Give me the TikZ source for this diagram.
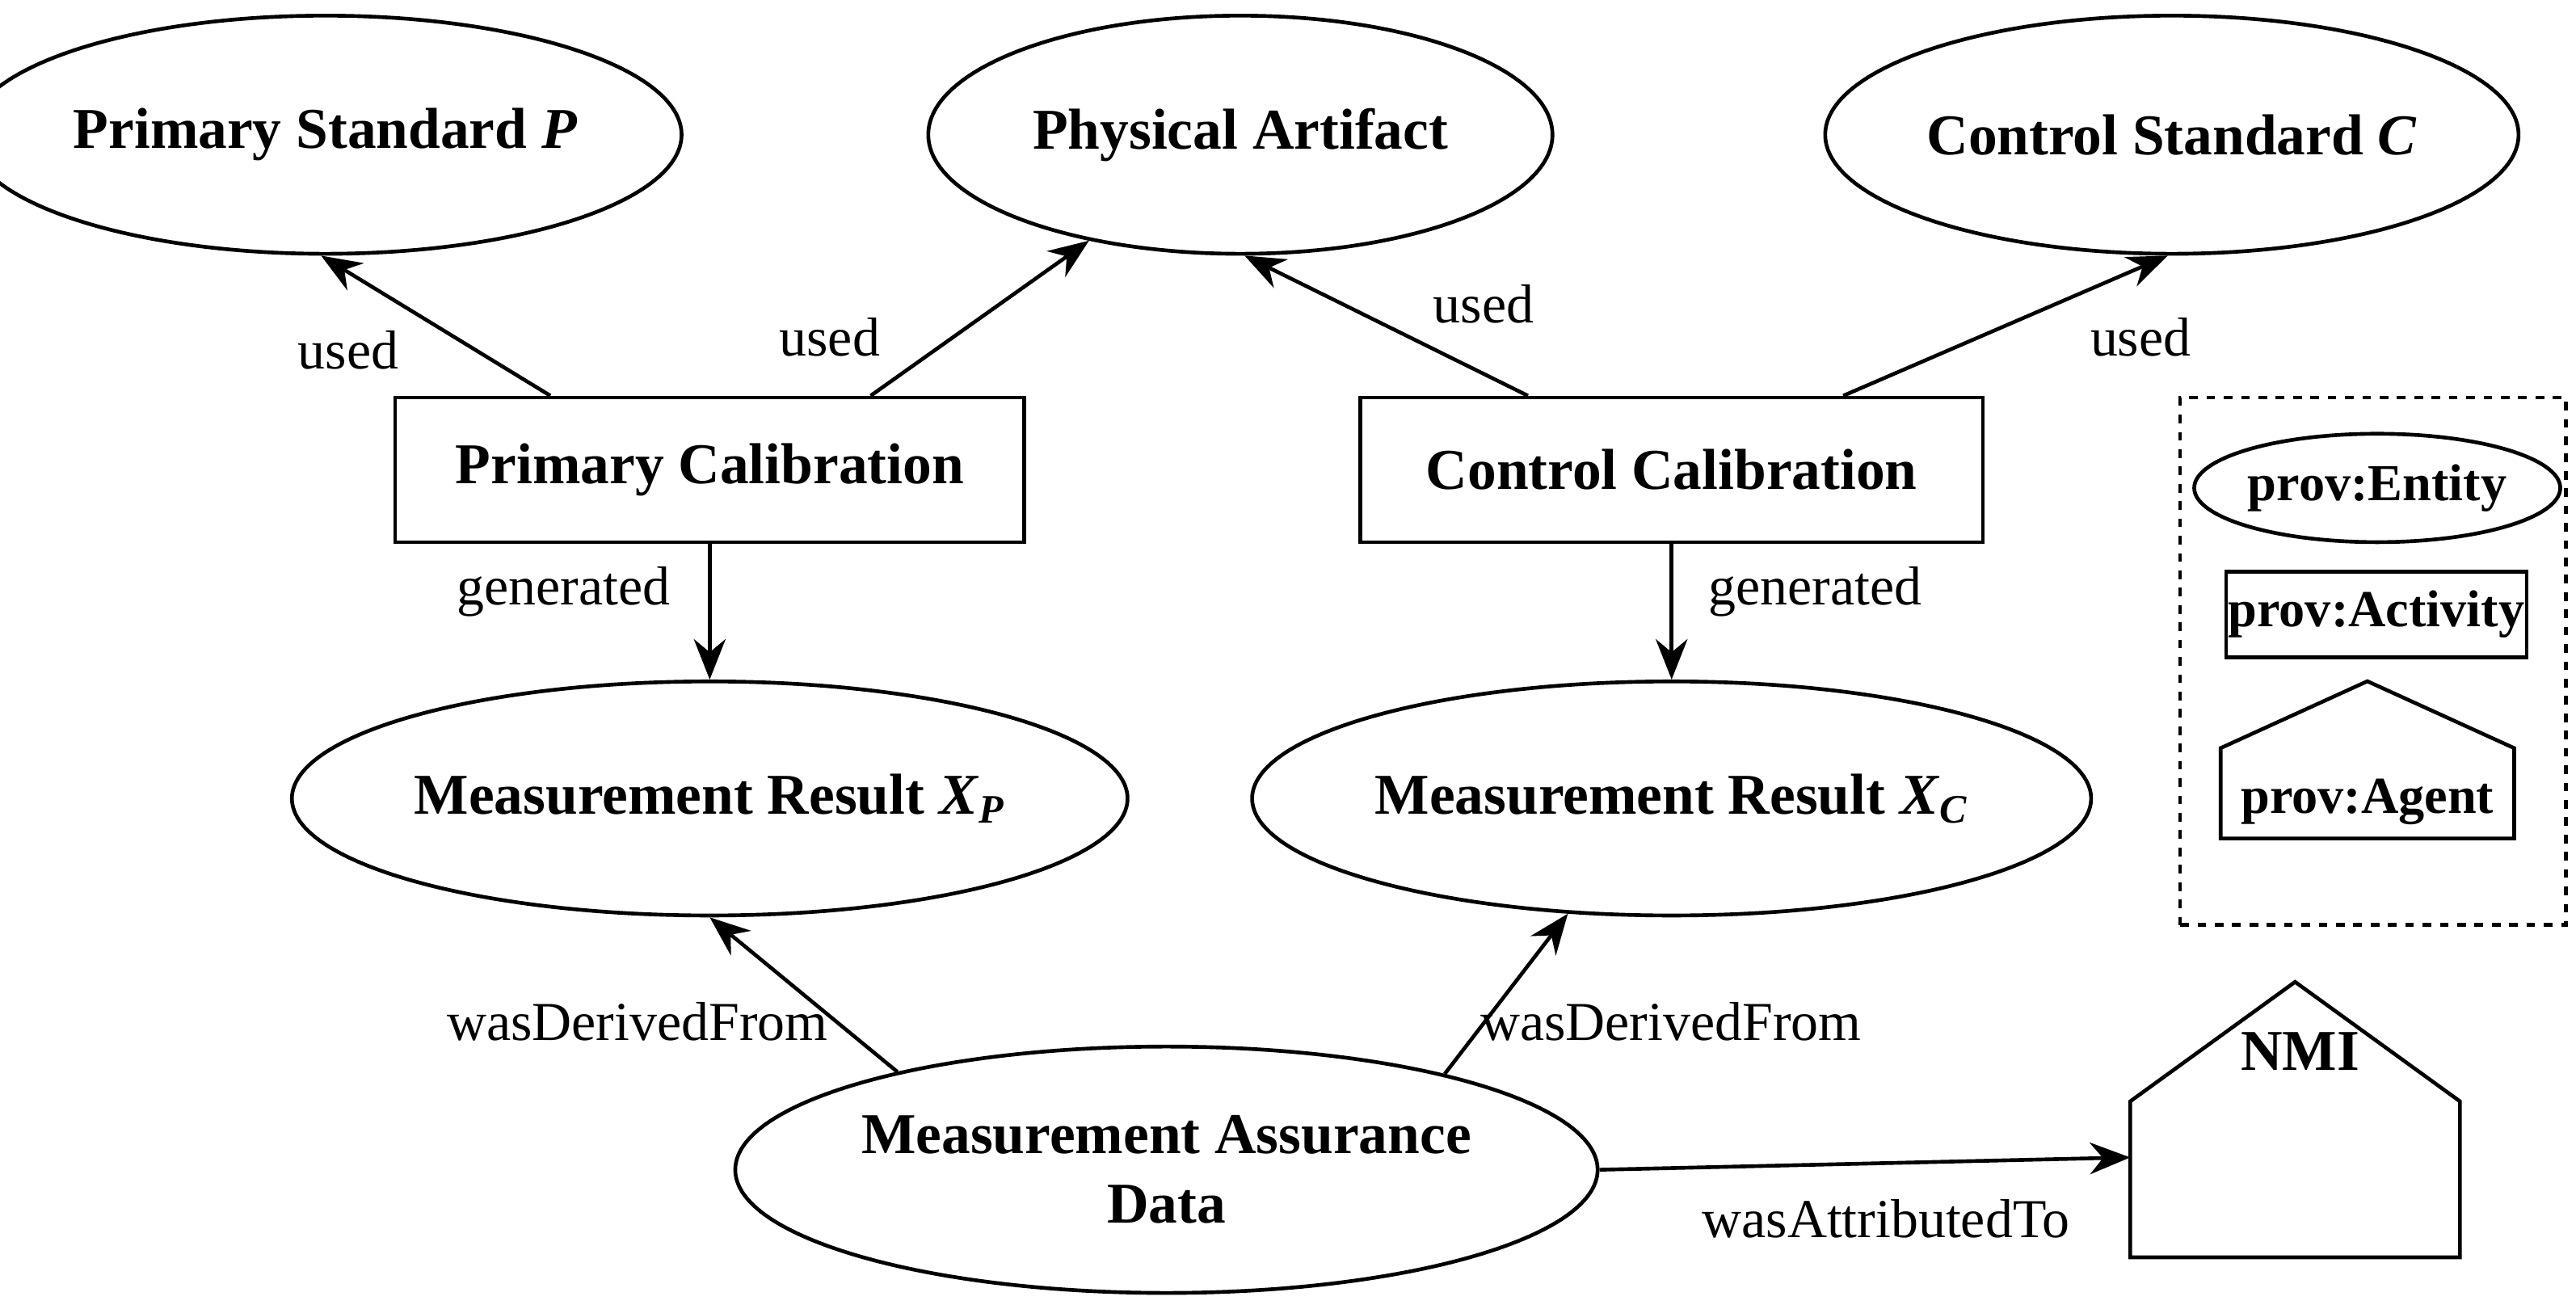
\documentclass[tikz,border=0pt]{standalone}
\usepackage{fontspec}
\setmainfont{Liberation Serif}
\usetikzlibrary{arrows.meta,shapes.geometric}
\begin{document}
\begin{tikzpicture}[x=0.02cm,y=-0.02cm,
  ent/.style={ellipse,draw,line width=1.3pt,inner sep=0pt,font=\bfseries\fontsize{20}{24}\selectfont,align=center},
  act/.style={rectangle,draw,line width=1.3pt,inner sep=0pt,font=\bfseries\fontsize{20}{24}\selectfont},
  arr/.style={-{Stealth[length=14pt,width=11pt]},line width=1.3pt},
  lab/.style={font=\fontsize{19}{23}\selectfont}]
\useasboundingbox (0,0) rectangle (1568,794);
\node[ent,minimum width=7.6cm,minimum height=2.9cm] (ps) at (198,82) {Primary Standard \textit{P}};
\node[ent,minimum width=7.6cm,minimum height=2.9cm] (pa) at (755,82) {Physical Artifact};
\node[ent,minimum width=7.9cm,minimum height=2.9cm] (cs) at (1322,82) {Control Standard \textit{C}};
\node[act,minimum width=7.66cm,minimum height=1.76cm] (pc) at (432,286) {Primary Calibration};
\node[act,minimum width=7.58cm,minimum height=1.76cm] (cc) at (1017.5,286) {Control Calibration};
\node[ent,minimum width=10cm,minimum height=2.85cm] (xp) at (432,486) {Measurement Result \textit{X}\textsubscript{\textit{P}}};
\node[ent,minimum width=10cm,minimum height=2.85cm] (xc) at (1017.5,486) {Measurement Result \textit{X}\textsubscript{\textit{C}}};
\node[ent,minimum width=8.2cm,minimum height=3cm] (mad) at (710,712) {Measurement Assurance\\Data};
% NMI agent
\node[minimum width=4cm,minimum height=3.34cm,inner sep=0pt] (nmi) at (1397,681.5) {};
\draw[line width=1.3pt] (nmi.south west) -- ([yshift=1.9cm]nmi.south west) -- (nmi.north) -- ([yshift=1.9cm]nmi.south east) -- (nmi.south east) -- cycle;
\node[font=\bfseries\fontsize{20}{24}\selectfont] (nmit) at (1400,640) {NMI};
% legend
\node[draw,dashed,line width=1.3pt,minimum width=4.7cm,minimum height=6.42cm,inner sep=0pt] (leg) at (1444.5,402.5) {};
\node[ent,minimum width=3.6cm,minimum height=1.32cm,font=\bfseries\fontsize{18}{22}\selectfont] (le) at (1447,297) {prov:Entity};
\node[act,minimum width=3.66cm,minimum height=1.04cm,font=\bfseries\fontsize{18}{22}\selectfont] (la) at (1446.5,374) {prov:Activity};
\node[minimum width=3.56cm,minimum height=1.9cm,inner sep=0pt] (lg) at (1441,462.5) {};
\draw[line width=1.3pt] (lg.south west) -- ([yshift=1.1cm]lg.south west) -- (lg.north) -- ([yshift=1.1cm]lg.south east) -- (lg.south east) -- cycle;
\node[font=\bfseries\fontsize{18}{22}\selectfont] (lgt) at (1441,488) {prov:Agent};
% connectors
\draw[arr] ([xshift=-1.94cm]pc.north) -- (ps.268);
\draw[arr] ([xshift=1.96cm]pc.north) -- (pa.215);
\draw[arr] ([xshift=-1.75cm]cc.north) -- (pa.-88);
\draw[arr] ([xshift=2.09cm]cc.north) -- (cs.268);
\draw[arr] (pc.south) -- (xp.north);
\draw[arr] (cc.south) -- (xc.north);
\draw[arr] (mad.160) -- (xp.south);
\draw[arr] (mad.19.5) -- (xc.228);
\draw[arr] (mad.east) -- ([yshift=-0.46cm]nmi.west);
% labels
\node[lab] (l1) at (212,213) {used};
\node[lab] (l2) at (505,205) {used};
\node[lab] (l3) at (903,185) {used};
\node[lab] (l4) at (1303,205) {used};
\node[lab] (l5) at (343,360) {generated};
\node[lab] (l6) at (1105,360) {generated};
\node[lab] (l7) at (388,622) {wasDerivedFrom};
\node[lab] (l8) at (1017,622) {wasDerivedFrom};
\node[lab] (l9) at (1148,742) {wasAttributedTo};
\end{tikzpicture}
\end{document}
